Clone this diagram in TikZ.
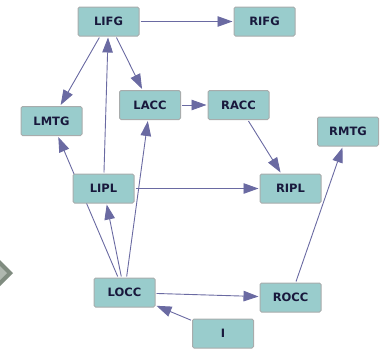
\documentclass[tikz,border=0pt]{standalone}
\usepackage{fontspec}
\setmainfont{DejaVu Sans}
\usetikzlibrary{arrows.meta}
\pgfdeclarelayer{edges}
\pgfsetlayers{edges,main}
\definecolor{nodefill}{RGB}{153,204,204}
\definecolor{nodeborder}{RGB}{168,172,172}
\definecolor{nodetext}{RGB}{24,24,60}
\definecolor{edgecol}{RGB}{106,106,162}
\definecolor{chevout}{RGB}{128,140,128}
\definecolor{chevin}{RGB}{176,184,176}
\begin{document}
\begin{tikzpicture}[x=1pt,y=-1pt,
  region/.style={draw=nodeborder,line width=1pt,fill=nodefill,rounded corners=1.5pt,
    minimum width=61pt,minimum height=29pt,inner sep=0pt,outer sep=1.5pt,
    text=nodetext,font=\fontsize{11.5}{13}\selectfont\bfseries},
  link/.style={draw=edgecol,line width=0.9pt,-{Triangle[length=15pt,width=10.5pt,fill=edgecol]}}]
\useasboundingbox (0,0) rectangle (382,348);
% gray chevron at left edge
\fill[chevout] (-2,258) -- (13,273) -- (-2,288) -- cycle;
\fill[chevin] (-2,264) -- (7,273) -- (-2,282) -- cycle;
\node[region] (LIFG) at (108.5,21.5) {LIFG};
\node[region] (RIFG) at (264.5,21.5) {RIFG};
\node[region] (LACC) at (150,105) {LACC};
\node[region] (RACC) at (238.5,105) {RACC};
\node[region] (LMTG) at (51.5,121) {LMTG};
\node[region] (RMTG) at (348,131.5) {RMTG};
\node[region] (LIPL) at (103.5,188.5) {LIPL};
\node[region] (RIPL) at (290.5,188.5) {RIPL};
\node[region] (LOCC) at (124.5,292.5) {LOCC};
\node[region] (ROCC) at (290.5,297.5) {ROCC};
\node[region] (I) at (223,333.5) {I};
\begin{pgfonlayer}{edges}
\draw[link] (LIFG) -- (RIFG);
\draw[link] (LIFG) -- (LMTG);
\draw[link] (LIFG) -- (LACC);
\draw[link] (LIPL) -- (LIFG);
\draw[link] (LACC) -- (RACC);
\draw[link] (RACC) -- (RIPL);
\draw[link] (LIPL) -- (RIPL);
\draw[link] (ROCC) -- (RMTG);
\draw[link] (LOCC) -- (LIPL);
\draw[link] (LOCC) -- (LACC);
\draw[link] (LOCC) -- (ROCC);
\draw[link] (I) -- (LOCC);
\draw[link] (LOCC) -- (LMTG);
\end{pgfonlayer}
\end{tikzpicture}
\end{document}
